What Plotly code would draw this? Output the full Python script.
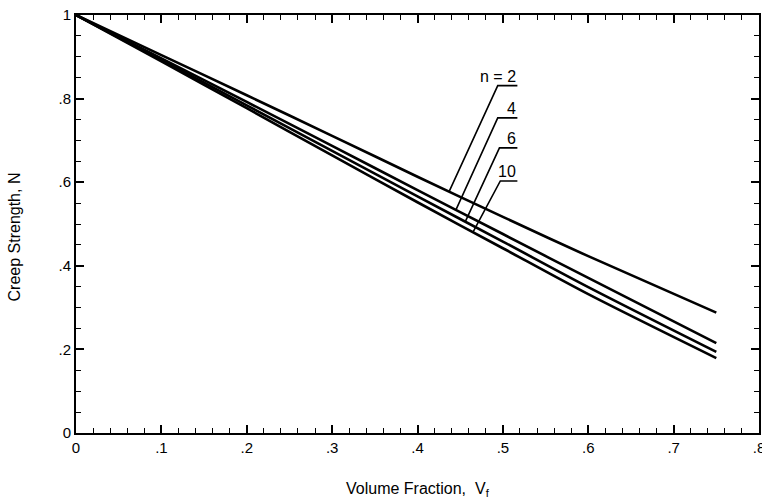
import plotly.graph_objects as go

# Data
vf = [0.0, 0.1, 0.2, 0.3, 0.4, 0.5, 0.6, 0.75]
n2 = [1.0, 0.904, 0.808, 0.711, 0.613, 0.517, 0.423, 0.288]
n4 = [1.0, 0.896, 0.792, 0.687, 0.581, 0.476, 0.371, 0.215]
n6 = [1.0, 0.892, 0.784, 0.675, 0.566, 0.458, 0.349, 0.194]
n10 = [1.0, 0.889, 0.777, 0.664, 0.552, 0.442, 0.332, 0.179]
series = [("2", n2), ("4", n4), ("6", n6), ("10", n10)]

label_text = ["n = 2", "4", "6", "10"]
leader_bottom_x = [0.437, 0.445, 0.456, 0.465]
leader_top_x = [0.494, 0.494, 0.496, 0.497]
leader_top_y = [0.831, 0.754, 0.682, 0.603]
underline_end_x = [0.517, 0.517, 0.517, 0.517]

x_ticks = [0, 0.1, 0.2, 0.3, 0.4, 0.5, 0.6, 0.7, 0.8]
x_ticklabels = ["0", ".1", ".2", ".3", ".4", ".5", ".6", ".7", ".8"]
y_ticks = [0, 0.2, 0.4, 0.6, 0.8, 1.0]
y_ticklabels = ["0", ".2", ".4", ".6", ".8", "1"]


def interp(xs, ys, x):
    for i in range(len(xs) - 1):
        if xs[i] <= x <= xs[i + 1]:
            t = (x - xs[i]) / (xs[i + 1] - xs[i])
            return ys[i] + t * (ys[i + 1] - ys[i])
    return ys[-1]


fig = go.Figure()
for name, ys in series:
    fig.add_trace(go.Scatter(x=vf, y=ys, mode="lines", name="n=" + name,
                             line=dict(color="black", width=2.6, shape="spline",
                                       smoothing=0.8),
                             showlegend=False, hoverinfo="skip"))

font = dict(family="Liberation Sans, Arial, sans-serif", size=15, color="black")

for i, (name, ys) in enumerate(series):
    bx = leader_bottom_x[i]
    by = interp(vf, ys, bx)
    fig.add_trace(go.Scatter(
        x=[bx, leader_top_x[i], underline_end_x[i]],
        y=[by, leader_top_y[i], leader_top_y[i]],
        mode="lines", line=dict(color="black", width=1.6),
        showlegend=False, hoverinfo="skip"))
    fig.add_annotation(x=underline_end_x[i], y=leader_top_y[i], text=label_text[i],
                       showarrow=False, xanchor="right", yanchor="bottom",
                       xshift=1, yshift=-1, font=dict(font, size=16))

axis_common = dict(showgrid=False, zeroline=False, showline=True, linecolor="black",
                   linewidth=2, mirror="allticks", ticks="inside", ticklen=8,
                   tickwidth=1.5, tickcolor="black", tickfont=font,
                   ticklabeloverflow="allow", automargin=False)

fig.update_xaxes(range=[0, 0.8], tickvals=x_ticks, ticktext=x_ticklabels,
                 minor=dict(dtick=0.02, ticks="inside", ticklen=5, tickwidth=1.2,
                            tickcolor="black", showgrid=False),
                 **axis_common)
fig.update_yaxes(range=[0, 1.0], tickvals=y_ticks, ticktext=y_ticklabels,
                 minor=dict(dtick=0.05, ticks="inside", ticklen=5, tickwidth=1.2,
                            tickcolor="black", showgrid=False),
                 **axis_common)

fig.add_annotation(xref="paper", yref="paper", x=0.5, y=-0.136,
                   text="Volume Fraction,  V<sub>f</sub>", showarrow=False,
                   xanchor="center", yanchor="middle", font=dict(font, size=16))
fig.add_annotation(xref="paper", yref="paper", x=-0.09, y=0.469,
                   text="Creep Strength, N", showarrow=False, textangle=-90,
                   xanchor="center", yanchor="middle", font=dict(font, size=16))

fig.update_layout(width=762, height=503, margin=dict(l=76, r=3, t=15, b=70),
                  plot_bgcolor="white", paper_bgcolor="white")

fig.write_html("out.html", config={"displayModeBar": False},
               post_script="document.body.style.margin='0';"
                           "document.body.style.overflow='hidden';")
